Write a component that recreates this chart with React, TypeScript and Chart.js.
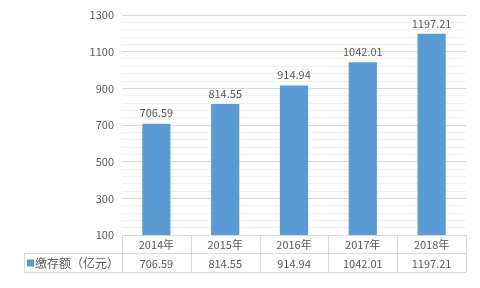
import React, { useEffect, useRef } from "react";
import { Chart, registerables } from "chart.js";

Chart.register(...registerables);

const categories = ["2014年", "2015年", "2016年", "2017年", "2018年"];
const seriesName = "缴存额（亿元）";
const values = [706.59, 814.55, 914.94, 1042.01, 1197.21];
const valueLabels = ["706.59", "814.55", "914.94", "1042.01", "1197.21"];

const FONT = "'Noto Sans CJK SC', 'Microsoft YaHei', sans-serif";
const TEXT = "#595959";
const BAR = "#5B9BD5";
const LINE = "#D9D9D9";

const labelsPlugin = {
  id: "valueLabels",
  afterDatasetsDraw(chart: any) {
    const ctx = chart.ctx;
    const meta = chart.getDatasetMeta(0);
    ctx.save();
    ctx.font = `11px ${FONT}`;
    ctx.fillStyle = TEXT;
    ctx.textAlign = "center";
    ctx.textBaseline = "bottom";
    meta.data.forEach((el: any, i: number) => {
      ctx.fillText(valueLabels[i], el.x, el.y - 5);
    });
    ctx.restore();
  },
};

const tablePlugin = {
  id: "dataTable",
  afterDraw(chart: any) {
    const ctx = chart.ctx;
    const area = chart.chartArea;
    const xs = chart.scales.x;
    const n = categories.length;
    const colW = (area.right - area.left) / n;
    const top = area.bottom;
    const mid = top + 18;
    const bot = mid + 19;
    const leftEdge = 24;
    ctx.save();
    ctx.strokeStyle = LINE;
    ctx.lineWidth = 1;
    ctx.beginPath();
    // horizontal lines
    ctx.moveTo(leftEdge, mid + 0.5);
    ctx.lineTo(area.right, mid + 0.5);
    ctx.moveTo(leftEdge, bot + 0.5);
    ctx.lineTo(area.right, bot + 0.5);
    // vertical lines
    ctx.moveTo(leftEdge + 0.5, mid);
    ctx.lineTo(leftEdge + 0.5, bot);
    for (let i = 0; i <= n; i++) {
      const x = Math.round(area.left + colW * i) + 0.5;
      ctx.moveTo(x, top);
      ctx.lineTo(x, bot);
    }
    ctx.stroke();

    ctx.font = `11px ${FONT}`;
    ctx.fillStyle = TEXT;
    ctx.textAlign = "center";
    ctx.textBaseline = "middle";
    categories.forEach((c, i) => {
      const cx = xs.getPixelForValue(i);
      ctx.fillText(c, cx, (top + mid) / 2 + 1);
      ctx.fillText(valueLabels[i], cx, (mid + bot) / 2 + 1);
    });
    // legend key
    ctx.fillStyle = BAR;
    ctx.fillRect(27, (mid + bot) / 2 - 3, 7, 7);
    ctx.fillStyle = TEXT;
    ctx.textAlign = "left";
    ctx.font = `12px ${FONT}`;
    ctx.fillText(seriesName, 35, (mid + bot) / 2 + 1);
    ctx.restore();
  },
};

export default function App() {
  const ref = useRef<HTMLCanvasElement>(null);
  useEffect(() => {
    document.body.style.margin = "0";
    const chart = new Chart(ref.current!, {
      type: "bar",
      data: {
        labels: categories,
        datasets: [
          {
            label: seriesName,
            data: values,
            backgroundColor: BAR,
            barPercentage: 0.41,
            categoryPercentage: 1,
          },
        ],
      },
      options: {
        animation: false,
        responsive: false,
        maintainAspectRatio: false,
        layout: { padding: { left: 0, right: 14, top: 15, bottom: 53 } },
        plugins: { legend: { display: false }, tooltip: { enabled: false } },
        scales: {
          x: { display: false },
          y: {
            min: 100,
            max: 1300,
            afterFit: (s: any) => {
              s.width = 122;
            },
            border: { display: false },
            grid: {
              drawTicks: false,
              color: (c: any) =>
                c.tick && (c.tick.value - 100) % 200 === 0 ? "#D9D9D9" : "#F0F0F0",
            },
            ticks: {
              stepSize: 40,
              padding: 8,
              color: TEXT,
              font: { family: FONT, size: 11 },
              autoSkip: false,
              callback: (v: any) => ((Number(v) - 100) % 200 === 0 ? String(v) : ""),
            },
          },
        },
      },
      plugins: [labelsPlugin, tablePlugin],
    });
    return () => chart.destroy();
  }, []);
  return (
    <div style={{ width: 480, height: 288 }}>
      <canvas ref={ref} width={480} height={288} style={{ display: "block" }} />
    </div>
  );
}
